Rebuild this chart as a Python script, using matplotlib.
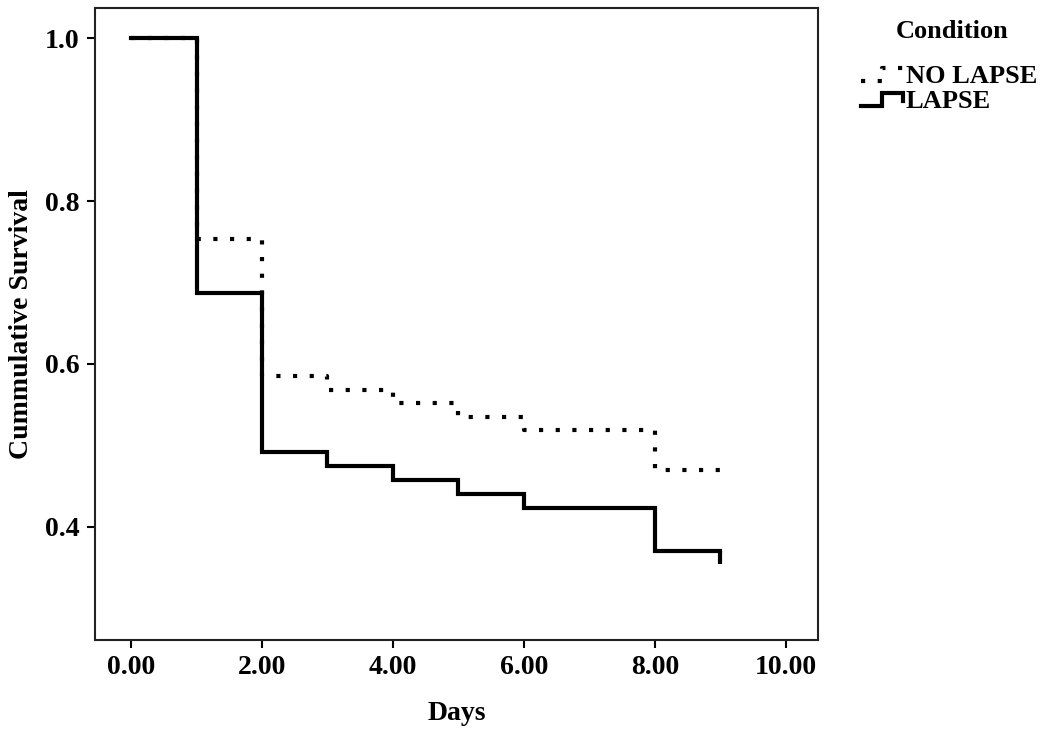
import matplotlib
matplotlib.use("Agg")
import matplotlib.pyplot as plt
from matplotlib.legend_handler import HandlerLine2D
from matplotlib.lines import Line2D

# Kaplan-Meier step values (survival after each day)
days = [0, 1, 2, 3, 4, 5, 6, 7, 8, 9]
no_lapse = [1.0, 0.754, 0.585, 0.568, 0.552, 0.535, 0.519, 0.519, 0.470, 0.470]
lapse = [1.0, 0.687, 0.492, 0.475, 0.458, 0.440, 0.423, 0.423, 0.370, 0.370]
lapse_end = 0.354  # final drop at day 9

x_ticks = [0, 2, 4, 6, 8, 10]
y_ticks = [0.4, 0.6, 0.8, 1.0]


class StepHandler(HandlerLine2D):
    """Legend key drawn as a little step, like SPSS survival plots."""
    def create_artists(self, legend, orig_handle, xdescent, ydescent,
                       width, height, fontsize, trans):
        x0 = -xdescent
        y0 = -ydescent
        xs = [x0, x0 + 0.5 * width, x0 + 0.5 * width, x0 + width, x0 + width]
        ys = [y0 + 0.1 * height, y0 + 0.1 * height, y0 + 0.8 * height,
              y0 + 0.8 * height, y0 + 0.35 * height]
        line = Line2D(xs, ys)
        self.update_prop(line, orig_handle, legend)
        line.set_transform(trans)
        return [line]


plt.rcParams["font.family"] = ["Liberation Serif", "DejaVu Serif"]
plt.rcParams["font.weight"] = "bold"

fig = plt.figure(figsize=(10.5, 7.39), dpi=100)
ax = fig.add_axes([0.0905, 0.134, 0.6885, 0.855])

ax.step(days, lapse, where="post", color="black", linewidth=3.0,
        solid_joinstyle="miter", label="LAPSE")
ax.plot([days[-1], days[-1]], [lapse[-1], lapse_end], color="black",
        linewidth=3.0, solid_capstyle="butt")
ax.step(days, no_lapse, where="post", color="black", linewidth=3.0,
        linestyle=(0, (1, 3)), dash_capstyle="butt", label="NO LAPSE")

ax.set_xlim(-0.55, 10.49)
ax.set_ylim(0.261, 1.037)
ax.set_xticks(x_ticks)
ax.set_xticklabels([f"{v:.2f}" for v in x_ticks])
ax.set_yticks(y_ticks)
ax.set_yticklabels([f"{v:.1f}" for v in y_ticks])
ax.tick_params(direction="out", length=6, width=1.5, labelsize=20, pad=5)
for sp in ax.spines.values():
    sp.set_linewidth(1.5)
    sp.set_color("#222222")

ax.set_xlabel("Days", fontsize=20, fontweight="bold", labelpad=15)
ax.set_ylabel("Cummulative Survival", fontsize=20, fontweight="bold", labelpad=8)

fig.text(0.907, 0.958, "Condition", fontsize=19, fontweight="bold",
         ha="center", va="center")
handles, labels = ax.get_legend_handles_labels()
leg = fig.legend(handles[::-1], labels[::-1], loc="upper left",
                 bbox_to_anchor=(0.810, 0.927), frameon=False, fontsize=19,
                 handlelength=1.6, handletextpad=0.1,
                 labelspacing=0.05, borderaxespad=0,
                 handler_map={h: StepHandler() for h in handles})

fig.savefig("out.png", dpi=100)
